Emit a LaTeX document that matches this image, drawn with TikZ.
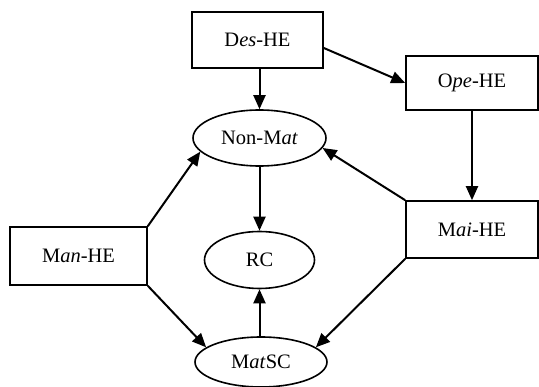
\documentclass[tikz,border=0pt]{standalone}
\usepackage{fontspec}
\setmainfont{Liberation Serif}
\usetikzlibrary{shapes.geometric,arrows.meta}
\begin{document}
\begin{tikzpicture}[x=1pt,y=-1pt,
  every node/.style={font=\fontsize{20.5}{23}\selectfont, inner sep=0pt},
  box/.style={draw, line width=1.6pt, rectangle},
  oval/.style={draw, line width=1.6pt, ellipse},
  arr/.style={line width=2pt, -{Triangle[length=14pt,width=12pt]}}]
\useasboundingbox (0,0) rectangle (539,387);
\node[box, minimum width=131pt, minimum height=56pt] (des) at (257.5,40) {D\textit{es}-HE};
\node[box, minimum width=132pt, minimum height=54pt] (ope) at (472,83) {O\textit{pe}-HE};
\node[box, minimum width=132pt, minimum height=57pt] (mai) at (472,229.5) {M\textit{ai}-HE};
\node[box, minimum width=137pt, minimum height=58pt] (man) at (78.5,256) {M\textit{an}-HE};
\node[oval, minimum width=133pt, minimum height=56pt] (nonmat) at (259.5,138) {Non-M\textit{at}};
\node[oval, minimum width=110pt, minimum height=57pt] (rc) at (259.5,260) {RC};
\node[oval, minimum width=132pt, minimum height=50pt] (matsc) at (261,362) {M\textit{at}SC};
\draw[arr] (nonmat.north |- des.south) -- (nonmat.north);
\draw[arr] ([yshift=-8pt]des.east) -- (ope.west);
\draw[arr] (ope.south) -- (mai.north);
\draw[arr] (mai.north west) -- (nonmat.-9);
\draw[arr] (man.north east) -- (nonmat.193);
\draw[arr] (man.south east) -- (matsc.165);
\draw[arr] (mai.south west) -- (matsc.15);
\draw[arr] (nonmat.south) -- (rc.north);
\draw[arr] (rc.south |- matsc.north) -- (rc.south);
\end{tikzpicture}
\end{document}
